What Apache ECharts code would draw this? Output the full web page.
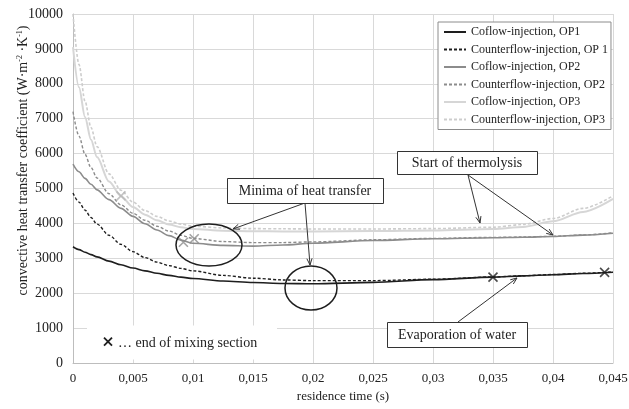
<!DOCTYPE html>
<html><head><meta charset="utf-8">
<script src="https://cdn.jsdelivr.net/npm/echarts@6/dist/echarts.min.js"></script>
<style>html,body{margin:0;padding:0;background:#fff}#c{width:629px;height:409px}</style>
</head><body><div id="c"></div>
<script>
// residence time (s)
var times = [0, 0.0005, 0.001, 0.0015, 0.002, 0.003, 0.004, 0.005, 0.006, 0.007, 0.008, 0.009, 0.01, 0.0125, 0.015, 0.0175, 0.02, 0.025, 0.03, 0.035, 0.0375, 0.04, 0.0425, 0.045];
var coflowOP1 =        [3330, 3250, 3175, 3105, 3040, 2920, 2815, 2720, 2640, 2570, 2510, 2460, 2420, 2350, 2305, 2280, 2270, 2310, 2390, 2460, 2495, 2530, 2565, 2600];
var counterflowOP1 =   [4870, 4610, 4380, 4170, 3980, 3660, 3400, 3190, 3020, 2890, 2790, 2710, 2640, 2510, 2430, 2380, 2360, 2360, 2400, 2465, 2500, 2535, 2570, 2610];
var coflowOP2 =        [5700, 5480, 5290, 5120, 4960, 4680, 4430, 4200, 3990, 3810, 3650, 3520, 3430, 3370, 3350, 3380, 3430, 3510, 3560, 3590, 3605, 3625, 3665, 3720];
var counterflowOP2 =   [7200, 6500, 5980, 5600, 5300, 4850, 4530, 4290, 4090, 3920, 3780, 3660, 3570, 3480, 3450, 3450, 3470, 3530, 3570, 3600, 3610, 3630, 3670, 3730];
var coflowOP3 =        [9050, 7900, 7050, 6400, 5900, 5200, 4780, 4470, 4250, 4090, 3970, 3890, 3840, 3790, 3775, 3770, 3770, 3780, 3800, 3840, 3900, 4060, 4330, 4700];
var counterflowOP3 =   [10000, 8550, 7500, 6750, 6200, 5420, 4950, 4610, 4370, 4200, 4070, 3980, 3920, 3870, 3850, 3845, 3840, 3840, 3850, 3890, 3970, 4140, 4430, 4790];
// end of mixing section markers [time, value]
var mixEndOP3 = [[0.004, 4790]];
var mixEndOP2 = [[0.0092, 3460], [0.0101, 3560]];
var mixEndOP1 = [[0.035, 2460], [0.0443, 2595]];
var seriesNames = ['Coflow-injection, OP1', 'Counterflow-injection, OP 1', 'Coflow-injection, OP2', 'Counterflow-injection, OP2', 'Coflow-injection, OP3', 'Counterflow-injection, OP3'];
var xTickLabels = ['0', '0,005', '0,01', '0,015', '0,02', '0,025', '0,03', '0,035', '0,04', '0,045'];
var yTickLabels = ['0', '1000', '2000', '3000', '4000', '5000', '6000', '7000', '8000', '9000', '10000'];

var FONT = '"Liberation Serif", "Times New Roman", serif';
function pairs(ys) { return times.map(function (t, i) { return [t, ys[i]]; }); }

var styles = [
  {color: '#1e1e1e', type: 'solid', width: 1.6},
  {color: '#1e1e1e', type: [3, 2], width: 1.4},
  {color: '#8c8c8c', type: 'solid', width: 1.6},
  {color: '#8c8c8c', type: [3, 2], width: 1.4},
  {color: '#d6d6d6', type: 'solid', width: 2},
  {color: '#cdcdcd', type: [3, 2], width: 1.6}
];
var values = [coflowOP1, counterflowOP1, coflowOP2, counterflowOP2, coflowOP3, counterflowOP3];

var series = values.map(function (v, i) {
  return {
    name: seriesNames[i], type: 'line', data: pairs(v), symbol: 'none', showSymbol: false,
    smooth: 0.3, smoothMonotone: 'x',
    lineStyle: {color: styles[i].color, type: styles[i].type, width: styles[i].width},
    itemStyle: {color: styles[i].color}, z: 2 + (5 - i)
  };
});
function crossSeries(data, color) {
  return {
    type: 'scatter', data: data, symbol: 'path://M0,0L10,10M10,0L0,10', symbolSize: 9,
    itemStyle: {color: 'rgba(0,0,0,0)', borderColor: color, borderWidth: 1.6}, z: 10, silent: true
  };
}
series.push(crossSeries(mixEndOP3, '#b4b4b4'));
series.push(crossSeries(mixEndOP2, '#8c8c8c'));
series.push(crossSeries(mixEndOP1, '#1e1e1e'));

var chart = echarts.init(document.getElementById('c'), null, {renderer: 'canvas'});
chart.setOption({
  animation: false,
  backgroundColor: '#fff',
  textStyle: {fontFamily: FONT},
  grid: {left: 73, right: 16, top: 14, bottom: 46, containLabel: false, outerBoundsMode: 'none'},
  legend: {
    data: seriesNames, orient: 'vertical', left: 438, top: 22,
    backgroundColor: '#fff', borderColor: '#8c8c8c', borderWidth: 1,
    padding: [4, 3, 4, 5], itemGap: 5.5, itemWidth: 22, itemHeight: 12,
    itemStyle: {opacity: 0},
    textStyle: {fontFamily: FONT, fontSize: 12, color: '#222'}
  },
  xAxis: {
    type: 'value', min: 0, max: 0.045, interval: 0.005,
    name: 'residence time (s)', nameLocation: 'middle', nameGap: 25,
    nameTextStyle: {fontFamily: FONT, fontSize: 13, color: '#222'},
    axisLine: {show: true, lineStyle: {color: '#bdbdbd'}},
    axisTick: {show: false},
    axisLabel: {fontFamily: FONT, fontSize: 13, color: '#222', margin: 9,
      formatter: function (v) { return xTickLabels[Math.round(v / 0.005)]; }},
    splitLine: {show: true, lineStyle: {color: '#d9d9d9', width: 1}}
  },
  yAxis: {
    type: 'value', min: 0, max: 10000, interval: 1000,
    name: 'convective heat transfer coefficient (W·m{s|-2} ·K{s|-1})', nameLocation: 'middle', nameGap: 43,
    nameMoveOverlap: false,
    nameTextStyle: {fontFamily: FONT, fontSize: 14, color: '#222', padding: [0, 0, 0, 56],
      rich: {s: {fontFamily: FONT, fontSize: 8, color: '#222', verticalAlign: 'top', padding: [0, 0, 5, 0]}}},
    axisLine: {show: true, lineStyle: {color: '#bdbdbd'}},
    axisTick: {show: false},
    axisLabel: {fontFamily: FONT, fontSize: 14, color: '#222', margin: 10,
      formatter: function (v) { return yTickLabels[Math.round(v / 1000)]; }},
    splitLine: {show: true, lineStyle: {color: '#d9d9d9', width: 1}}
  },
  series: series
});

// annotations (in data coordinates)
var boxes = [
  {text: 'Minima of heat transfer', at: [0.019333, 4943], w: 156, h: 25},
  {text: 'Start of thermolysis', at: [0.032833, 5745], w: 140, h: 23},
  {text: 'Evaporation of water', at: [0.032, 817], w: 140, h: 25}
];
var arrows = [
  [[0.019333, 4585], [0.013333, 3840]],
  [[0.019333, 4585], [0.01975, 2808]],
  [[0.032917, 5387], [0.033917, 4011]],
  [[0.032917, 5387], [0.04, 3668]],
  [[0.032083, 1175], [0.037, 2436]]
];
var ellipses = [
  {at: [0.011333, 3381], rx: 33, ry: 21},
  {at: [0.019833, 2149], rx: 26, ry: 22}
];
var mixNote = {at: [0.009083, 587], w: 190, h: 34};

function px(p) { return chart.convertToPixel({gridIndex: 0}, p); }
var g = [];
ellipses.forEach(function (e) {
  var c = px(e.at);
  g.push({type: 'ellipse', shape: {cx: c[0], cy: c[1], rx: e.rx, ry: e.ry},
    style: {fill: null, stroke: '#1e1e1e', lineWidth: 1.5}, z: 20});
});
arrows.forEach(function (a) {
  var p0 = px(a[0]), p1 = px(a[1]);
  var ang = Math.atan2(p1[1] - p0[1], p1[0] - p0[0]);
  var L = 7, s = 0.38;
  var h1 = [p1[0] - L * Math.cos(ang - s), p1[1] - L * Math.sin(ang - s)];
  var h2 = [p1[0] - L * Math.cos(ang + s), p1[1] - L * Math.sin(ang + s)];
  g.push({type: 'line', shape: {x1: p0[0], y1: p0[1], x2: p1[0], y2: p1[1]},
    style: {stroke: '#333', lineWidth: 1}, z: 21});
  g.push({type: 'polyline', shape: {points: [h1, p1, h2]},
    style: {stroke: '#333', lineWidth: 1, fill: null}, z: 21});
});
boxes.forEach(function (b) {
  var c = px(b.at);
  g.push({type: 'rect', shape: {x: Math.round(c[0] - b.w / 2) + 0.5, y: Math.round(c[1] - b.h / 2) + 0.5, width: b.w, height: b.h},
    style: {fill: '#fff', stroke: '#333', lineWidth: 1}, z: 22});
  g.push({type: 'text', x: c[0], y: c[1] + 1,
    style: {text: b.text, fill: '#222', font: '14px ' + FONT, textAlign: 'center', textVerticalAlign: 'middle'}, z: 23});
});
(function () {
  var c = px(mixNote.at);
  g.push({type: 'rect', shape: {x: c[0] - mixNote.w / 2, y: c[1] - mixNote.h / 2, width: mixNote.w, height: mixNote.h},
    style: {fill: '#fff', stroke: null}, z: 22});
  var xx = c[0] - mixNote.w / 2 + 21, yy = c[1] - 1;
  g.push({type: 'polyline', shape: {points: [[xx - 4, yy - 4], [xx + 4, yy + 4]]}, style: {stroke: '#1e1e1e', lineWidth: 1.8, fill: null}, z: 23});
  g.push({type: 'polyline', shape: {points: [[xx + 4, yy - 4], [xx - 4, yy + 4]]}, style: {stroke: '#1e1e1e', lineWidth: 1.8, fill: null}, z: 23});
  g.push({type: 'text', x: xx + 10, y: c[1] + 1,
    style: {text: '… end of mixing section', fill: '#222', font: '14px ' + FONT, textAlign: 'left', textVerticalAlign: 'middle'}, z: 23});
})();
chart.setOption({graphic: g});
</script></body></html>
